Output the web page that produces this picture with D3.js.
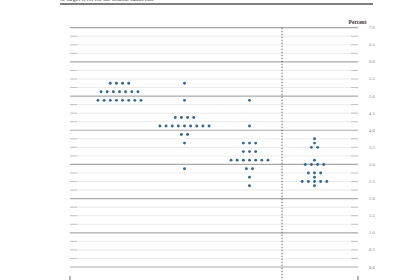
<!DOCTYPE html>
<html>
<head>
<meta charset="utf-8">
<style>
  body { margin: 0; background: #fff; }
  svg { display: block; font-family: "Liberation Serif", "DejaVu Serif", serif; }
</style>
</head>
<body>
<div id="container"></div>
<script src="https://cdn.jsdelivr.net/npm/d3@7"></script>
<script>
// columns of the dot plot
var years = ["2023", "2024", "2025", "Longer run"];

// [midpoint, number of participants]
var dots2023 = [[5.375, 4], [5.125, 7], [4.875, 8]];
var dots2024 = [[5.375, 1], [4.875, 1], [4.375, 4], [4.125, 9], [3.875, 2], [3.625, 1], [2.875, 1]];
var dots2025 = [[4.875, 1], [4.125, 1], [3.625, 3], [3.375, 3], [3.125, 7], [2.875, 2], [2.625, 1], [2.375, 1]];
var dotsLonger = [[3.75, 1], [3.625, 1], [3.5, 2], [3.125, 1], [3.0, 4], [2.75, 3], [2.625, 1], [2.5, 5], [2.375, 1]];

var yTicks = [7, 6.5, 6, 5.5, 5, 4.5, 4, 3.5, 3, 2.5, 2, 1.5, 1, 0.5, 0];

var W = 415, H = 280;
var left = 70, right = 358;

var svg = d3.select("#container").append("svg")
  .attr("width", W)
  .attr("height", H);

var y = d3.scaleLinear().domain([0, 7]).range([267, 27.7]);
var x = d3.scaleBand().domain(years).range([87, 347]);

// cut-off caption and rule at the very top
svg.append("text")
  .attr("x", 60)
  .attr("y", 1.2)
  .style("font-size", "6px")
  .style("fill", "#444")
  .text("or target level for the federal funds rate");

svg.append("line")
  .attr("x1", 60).attr("x2", 373)
  .attr("y1", 4).attr("y2", 4)
  .style("stroke", "#555")
  .style("stroke-width", 1.3);

// grid: heavy at whole percents, light every quarter
var quarters = d3.range(0, 28.01, 1).map(function(d) { return d / 4; });
var grid = svg.append("g");

quarters.forEach(function(v) {
  var whole = Math.abs(v - Math.round(v)) < 1e-6;
  grid.append("line")
    .attr("x1", left).attr("x2", right)
    .attr("y1", y(v)).attr("y2", y(v))
    .style("stroke", whole ? "#a9a9a9" : "#e3e3e3")
    .style("stroke-width", whole ? 1.2 : 0.7);
  if (!whole) {
    [[left, left + 7], [right - 7, right]].forEach(function(s) {
      grid.append("line")
        .attr("x1", s[0]).attr("x2", s[1])
        .attr("y1", y(v)).attr("y2", y(v))
        .style("stroke", "#b0b0b0")
        .style("stroke-width", 0.7);
    });
  }
});

// tick labels on the right
svg.append("g").selectAll("text")
  .data(yTicks)
  .enter()
  .append("text")
    .attr("x", 369)
    .attr("y", function(d) { return y(d) + 1.5; })
    .style("font-size", "4.5px")
    .style("fill", "#777")
    .text(function(d) { return d.toFixed(1); });

svg.append("text")
  .attr("x", 366.5)
  .attr("y", 23.5)
  .attr("text-anchor", "end")
  .style("font-size", "5.5px")
  .style("font-weight", "bold")
  .style("fill", "#333")
  .text("Percent");

// dashed separator before the longer run column
var sep = x("Longer run");
svg.append("line")
  .attr("x1", sep).attr("x2", sep)
  .attr("y1", y(7)).attr("y2", H)
  .style("stroke", "#444")
  .style("stroke-width", 0.8)
  .style("stroke-dasharray", "1.5,1.5");

// x axis sits just below the window, only its end ticks show
[left, right].forEach(function(t) {
  svg.append("line")
    .attr("x1", t).attr("x2", t)
    .attr("y1", 276).attr("y2", H)
    .style("stroke", "#444")
    .style("stroke-width", 0.8);
});

// dots
var columns = [dots2023, dots2024, dots2025, dotsLonger];
var step = 6.15;
var points = [];
columns.forEach(function(rows, c) {
  var cx = x(years[c]) + x.bandwidth() / 2;
  rows.forEach(function(r) {
    for (var i = 0; i < r[1]; i++) {
      points.push({ x: cx + (i - (r[1] - 1) / 2) * step, v: r[0] });
    }
  });
});

svg.append("g").selectAll("circle")
  .data(points)
  .enter()
  .append("circle")
    .attr("cx", function(d) { return d.x; })
    .attr("cy", function(d) { return y(d.v); })
    .attr("r", 1.45)
    .style("fill", "#2d6a9a");
</script>
</body>
</html>
